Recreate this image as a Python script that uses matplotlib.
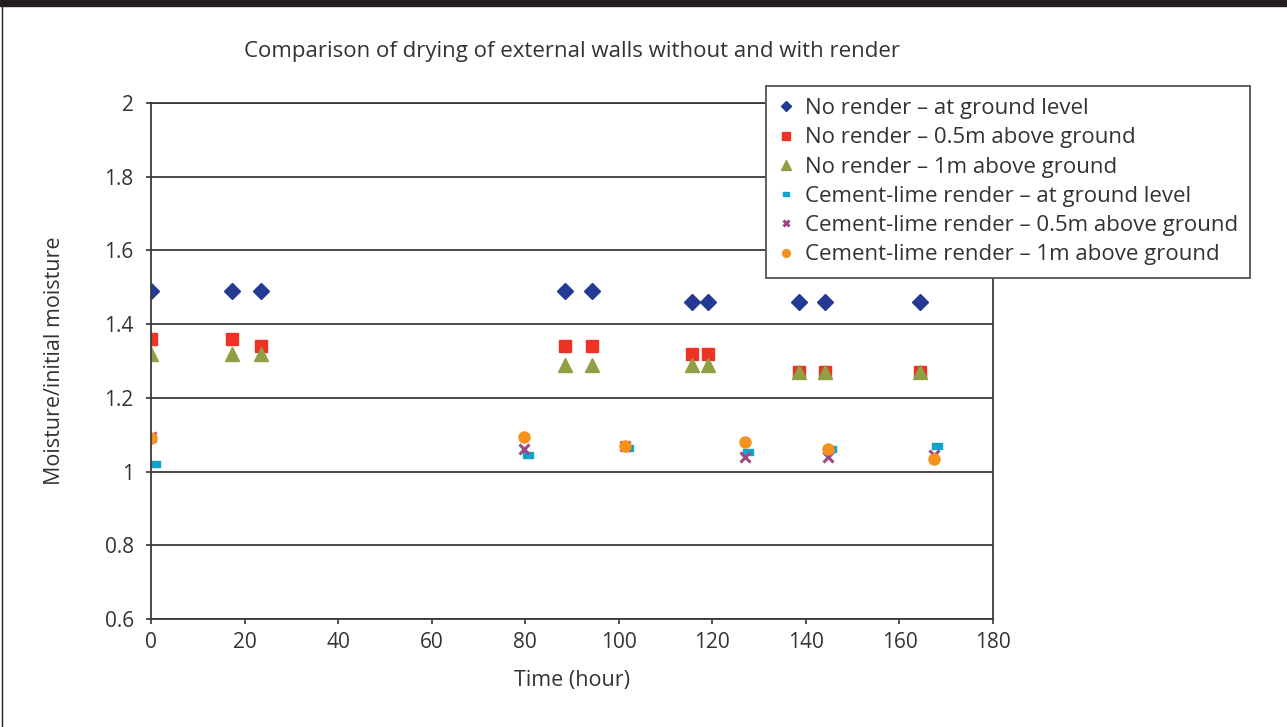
import matplotlib
matplotlib.use('Agg')
import matplotlib.pyplot as plt
from matplotlib.lines import Line2D
from matplotlib.patches import Rectangle

plt.rcParams['font.family'] = ['Open Sans', 'DejaVu Sans']

# data
no_render_x = [0, 17.3, 23.6, 88.6, 94.3, 115.6, 119, 138.5, 144, 164.5]
no_render_ground = [1.49, 1.49, 1.49, 1.49, 1.49, 1.46, 1.46, 1.46, 1.46, 1.46]
no_render_05m = [1.36, 1.36, 1.34, 1.34, 1.34, 1.32, 1.32, 1.27, 1.27, 1.27]
no_render_1m = [1.32, 1.32, 1.32, 1.29, 1.29, 1.29, 1.29, 1.27, 1.27, 1.27]

cement_ground_x = [0.9, 80.6, 102, 127.6, 145.4, 168]
cement_ground = [1.02, 1.045, 1.065, 1.053, 1.06, 1.07]
cement_x = [0, 79.7, 101.3, 127, 144.7, 167.4]
cement_05m = [1.093, 1.06, 1.07, 1.04, 1.04, 1.045]
cement_1m = [1.09, 1.093, 1.07, 1.08, 1.06, 1.035]

labels = [
    'No render \u2013 at ground level',
    'No render \u2013 0.5m above ground',
    'No render \u2013 1m above ground',
    'Cement-lime render \u2013 at ground level',
    'Cement-lime render \u2013 0.5m above ground',
    'Cement-lime render \u2013 1m above ground',
]

navy = '#253A93'
red = '#EE3224'
olive = '#8FA044'
cyan = '#0FA5C8'
purple = '#9A4A84'
orange = '#F5921E'
text_col = '#333333'
dash = [(-1, -0.55), (1, -0.55), (1, 0.55), (-1, 0.55), (-1, -0.55)]

fig = plt.figure(figsize=(12.87, 7.27), dpi=100)
ax = fig.add_axes([151 / 1287, 1 - 619 / 727, (993 - 151) / 1287, (619 - 103) / 727])

ax.plot(no_render_x, no_render_ground, ls='none', marker='D', ms=8, color=navy, label=labels[0])
ax.plot(no_render_x, no_render_05m, ls='none', marker='s', ms=8.5, color=red, label=labels[1])
ax.plot(no_render_x, no_render_1m, ls='none', marker='^', ms=9.5, color=olive, label=labels[2])
ax.plot(cement_ground_x, cement_ground, ls='none', marker=dash, ms=7, color=cyan, label=labels[3])
ax.plot(cement_x, cement_05m, ls='none', marker='x', ms=7, mew=2.2, color=purple, label=labels[4])
ax.plot(cement_x, cement_1m, ls='none', marker='o', ms=8, color=orange, label=labels[5])

ax.set_xlim(0, 180)
ax.set_ylim(0.6, 2.0)
ax.set_xticks(range(0, 181, 20))
ax.set_yticks([0.6, 0.8, 1.0, 1.2, 1.4, 1.6, 1.8, 2.0])
ax.set_yticklabels(['0.6', '0.8', '1', '1.2', '1.4', '1.6', '1.8', '2'])
ax.grid(axis='y', color='#3a3a3a', lw=1.3)
ax.set_axisbelow(True)
for s in ax.spines.values():
    s.set_color('#3a3a3a')
    s.set_linewidth(1.3)
ax.tick_params(colors=text_col, labelsize=15, length=3.5, width=1.2)
ax.tick_params(axis='y', pad=9)
ax.tick_params(axis='x', pad=6)

ax.set_xlabel('Time (hour)', fontsize=15.5, color=text_col, labelpad=12)
ax.set_ylabel('Moisture/initial moisture', fontsize=15.5, color=text_col, labelpad=28)
fig.text(572 / 1287, 1 - 52 / 727, 'Comparison of drying of external walls without and with render',
         ha='center', va='center', fontsize=16, color=text_col)

leg = ax.legend(loc='upper left', bbox_to_anchor=(766 / 1287, 1 - 86 / 727),
                bbox_transform=fig.transFigure, borderaxespad=0, fontsize=16,
                frameon=True, fancybox=False, edgecolor='#555555', framealpha=1,
                markerscale=0.7, handlelength=0.7, handletextpad=0.5,
                labelspacing=0.37, borderpad=0.55, labelcolor=text_col)
leg.get_frame().set_linewidth(1.3)

# page frame: dark strip at top, thin line at left
fig.patches.append(Rectangle((0, 1 - 6 / 727), 1, 6 / 727, transform=fig.transFigure,
                             color='#231F20', zorder=10))
fig.lines.append(Line2D([2 / 1287, 2 / 1287], [0, 1], transform=fig.transFigure,
                        color='#231F20', lw=1))

fig.savefig('out.png', dpi=100)
